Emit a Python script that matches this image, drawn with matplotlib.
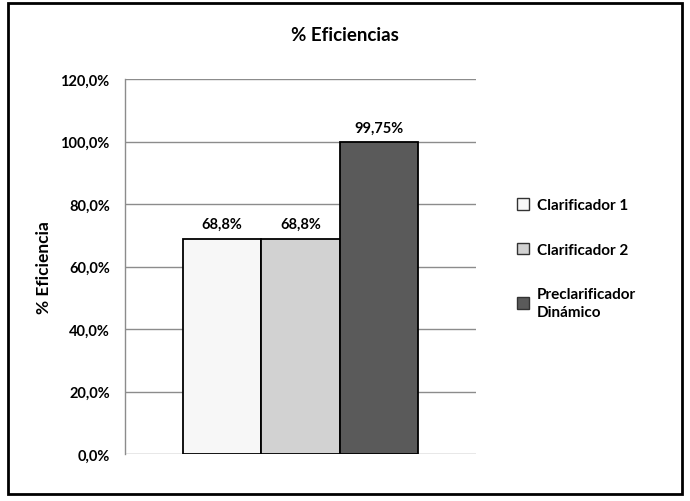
import matplotlib.pyplot as plt
from matplotlib.patches import Rectangle
from matplotlib.ticker import FuncFormatter

# datos
categorias = ["Clarificador 1", "Clarificador 2", "Preclarificador\nDinámico"]
eficiencia = [68.8, 68.8, 99.75]
etiquetas = ["68,8%", "68,8%", "99,75%"]
colores = ["#f7f7f7", "#d2d2d2", "#5a5a5a"]

plt.rcParams["font.family"] = ["Lato", "DejaVu Sans"]
plt.rcParams["font.weight"] = "bold"

fig = plt.figure(figsize=(6.9, 5.02), dpi=100)
ax = fig.add_axes([0.1812, 0.0936, 0.5087, 0.747])

xs = list(range(len(eficiencia)))
barras = ax.bar(xs, eficiencia, width=1.0, color=colores,
                edgecolor="black", linewidth=1.3, zorder=3)

for b, txt in zip(barras, etiquetas):
    ax.text(b.get_x() + b.get_width() / 2, b.get_height() + 2.5, txt,
            ha="center", va="bottom", fontsize=10.5, fontweight="bold")

ax.set_xlim(-1.24, 3.24)
ax.set_ylim(0, 120)
ax.set_yticks(range(0, 121, 20))
ax.yaxis.set_major_formatter(FuncFormatter(lambda v, p: f"{v:.1f}%".replace(".", ",")))
ax.set_xticks([])
ax.tick_params(axis="y", length=0, pad=11, labelsize=10.5)
for t in ax.get_yticklabels():
    t.set_fontweight("bold")

ax.yaxis.grid(True, color="#8c8c8c", linewidth=1.0, zorder=0)
for s in ["top", "right", "bottom"]:
    ax.spines[s].set_visible(False)
ax.spines["left"].set_color("#8c8c8c")
ax.spines["left"].set_linewidth(1.0)

ax.set_ylabel("% Eficiencia", fontsize=12.5, fontweight="bold", labelpad=6)

fig.text(0.5, 0.93, "% Eficiencias", ha="center", va="center",
         fontsize=13.5, fontweight="bold")

# leyenda
handles = [Rectangle((0, 0), 1, 1, facecolor=c, edgecolor="#333333", linewidth=1.0)
           for c in colores]
leg = fig.legend(handles, categorias, loc="upper left",
                 bbox_to_anchor=(0.729, 0.631), frameon=False,
                 fontsize=11, handlelength=0.8, handleheight=0.8,
                 handletextpad=0.5, labelspacing=2.0)
for t in leg.get_texts():
    t.set_fontweight("bold")
    t.set_linespacing(1.3)

# marco exterior
fig.patches.append(Rectangle((0.012, 0.014), 0.976, 0.978, transform=fig.transFigure,
                             fill=False, edgecolor="black", linewidth=2.0))

fig.savefig("out.png", dpi=100)
